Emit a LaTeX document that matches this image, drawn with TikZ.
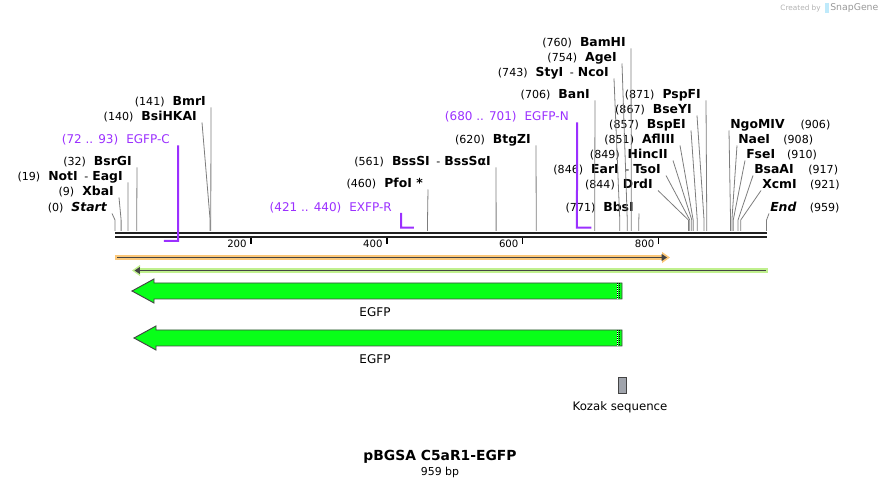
\documentclass[tikz,border=0pt]{standalone}
\usepackage{fontspec}
\setmainfont{DejaVu Sans}
\usetikzlibrary{arrows.meta,calc}

\definecolor{primer}{RGB}{155,48,255}
\definecolor{featgreen}{RGB}{8,255,24}
\definecolor{cutgray}{RGB}{125,125,125}
\definecolor{darkline}{RGB}{68,68,68}
\definecolor{glowor}{RGB}{252,200,122}
\definecolor{glowgr}{RGB}{192,240,142}
\definecolor{kozak}{RGB}{160,164,172}

\newcommand{\enz}[1]{{\fontsize{9.3}{11}\selectfont\bfseries #1}}

\tikzset{
  site/.style={inner sep=0pt,font=\fontsize{8.3}{10}\selectfont},
  lsite/.style={site,anchor=base east},
  rsite/.style={site,anchor=base west},
  plabel/.style={inner sep=0pt,anchor=base east,text=primer,font=\fontsize{9}{11}\selectfont},
  cutline/.style={draw=cutgray,line width=0.6pt},
  primerline/.style={draw=primer,line width=1.5pt},
  backbone/.style={draw=black!87,line width=1.5pt},
  tickmark/.style={draw=black,line width=1.2pt},
  ticklabel/.style={inner sep=0pt,anchor=east,font=\fontsize{7.6}{9}\selectfont},
  featarrow/.style={fill=featgreen,draw=darkline,line width=0.7pt},
  featlabel/.style={inner sep=0pt,font=\fontsize{9}{11}\selectfont}
}

\begin{document}
\begin{tikzpicture}[x=0.75pt,y=-0.75pt]
\useasboundingbox (0,0) rectangle (882,488);

% cut sites on the sequence
\foreach \n/\bp in {Start/0,XbaI/9,NotI/19,BsrGI/32,BsiHKAI/140,BmrI/141,PfoI/460,BssSI/561,BtgZI/620,BanI/706,StyI/743,AgeI/754,BamHI/760,BbsI/771,DrdI/844,EarI/846,HincII/849,AflIII/851,BspEI/857,BseYI/867,PspFI/871,NgoMIV/906,NaeI/908,FseI/910,BsaAI/917,XcmI/921,End/959}{
  \coordinate (c\n) at ({115+\bp*0.6794},231);
  \coordinate (k\n) at ({115+\bp*0.6794},220);
}

% backbone and ruler
\draw[backbone] (115,232.7) -- (767,232.7);
\draw[backbone] (115,236.7) -- (767,236.7);
\foreach \t in {200,400,600,800}{
  \draw[tickmark] ({115+\t*0.6794},238) -- ++(0,6.5);
  \node[ticklabel] (t\t) at ({115+\t*0.6794-4},244) {\t};
}

% enzymes, left of their lines
\node[lsite] (eStart) at (107,211.5) {(0)\hspace{6pt}\enz{\itshape Start}};
\node[lsite] (eXbaI) at (114,195.5) {(9)\hspace{6pt}\enz{XbaI}};
\node[lsite] (eNotI) at (123,180.5) {(19)\hspace{6pt}\enz{NotI}\hspace{5pt}-\hspace{3pt}\enz{EagI}};
\node[lsite] (eBsrGI) at (132,165.5) {(32)\hspace{6pt}\enz{BsrGI}};
\node[lsite] (eBsiHKAI) at (197,120.5) {(140)\hspace{6pt}\enz{BsiHKAI}};
\node[lsite] (eBmrI) at (206,105.5) {(141)\hspace{6pt}\enz{BmrI}};
\node[lsite] (ePfoI) at (423,187.5) {(460)\hspace{6pt}\enz{PfoI *}};
\node[lsite] (eBssSI) at (491,165.5) {(561)\hspace{6pt}\enz{BssSI}\hspace{5pt}-\hspace{3pt}\enz{BssSαI}};
\node[lsite] (eBtgZI) at (531,143.5) {(620)\hspace{6pt}\enz{BtgZI}};
\node[lsite] (eBanI) at (590,98.5) {(706)\hspace{6pt}\enz{BanI}};
\node[lsite] (eStyI) at (609,76.5) {(743)\hspace{6pt}\enz{StyI}\hspace{5pt}-\hspace{3pt}\enz{NcoI}};
\node[lsite] (eAgeI) at (617,61.5) {(754)\hspace{6pt}\enz{AgeI}};
\node[lsite] (eBamHI) at (626,46.5) {(760)\hspace{6pt}\enz{BamHI}};
\node[lsite] (eBbsI) at (634,211.5) {(771)\hspace{6pt}\enz{BbsI}};
\node[lsite] (eDrdI) at (653,188.5) {(844)\hspace{6pt}\enz{DrdI}};
\node[lsite] (eEarI) at (661,173.5) {(846)\hspace{6pt}\enz{EarI}\hspace{5pt}-\hspace{3pt}\enz{TsoI}};
\node[lsite] (eHincII) at (668,158.5) {(849)\hspace{6pt}\enz{HincII}};
\node[lsite] (eAflIII) at (675,143.5) {(851)\hspace{6pt}\enz{AflIII}};
\node[lsite] (eBspEI) at (686,128.5) {(857)\hspace{6pt}\enz{BspEI}};
\node[lsite] (eBseYI) at (692,113.5) {(867)\hspace{6pt}\enz{BseYI}};
\node[lsite] (ePspFI) at (701,98.5) {(871)\hspace{6pt}\enz{PspFI}};

% enzymes, right of their lines
\node[rsite] (eNgoMIV) at (730,128.5) {\enz{NgoMIV}\hspace{12pt}(906)};
\node[rsite] (eNaeI) at (738,143.5) {\enz{NaeI}\hspace{10pt}(908)};
\node[rsite] (eFseI) at (746,158.5) {\enz{FseI}\hspace{9pt}(910)};
\node[rsite] (eBsaAI) at (754,173.5) {\enz{BsaAI}\hspace{11pt}(917)};
\node[rsite] (eXcmI) at (762,188.5) {\enz{XcmI}\hspace{10pt}(921)};
\node[rsite] (eEnd) at (770,211.5) {\enz{\itshape End}\hspace{10pt}(959)};

\foreach \n in {Start,XbaI,NotI,BsrGI,BsiHKAI,BmrI,PfoI,BssSI,BtgZI,BanI,StyI,AgeI,BamHI,BbsI,DrdI,EarI,HincII,AflIII,BspEI,BseYI,PspFI}
  \draw[cutline] ([shift={(5,2)}]e\n.base east) -- (k\n) -- (c\n);
\foreach \n in {NgoMIV,NaeI,FseI,BsaAI,XcmI,End}
  \draw[cutline] ([shift={(-1,2)}]e\n.base west) -- (k\n) -- (c\n);

% primers
\foreach \n/\bp/\y in {p72/72/241,p93/93/241,p421/421/227.7,p440/440/227.7,p680/680/227.7,p701/701/227.7}
  \coordinate (\n) at ({115+\bp*0.6794},\y);
\node[plabel] (pEGFPC) at (170,143.5) {(72 .. 93)\hspace{6pt}EGFP-C};
\node[plabel] (pEXFPR) at (392,211.5) {(421 .. 440)\hspace{6pt}EXFP-R};
\node[plabel] (pEGFPN) at (569,120.5) {(680 .. 701)\hspace{6pt}EGFP-N};
\draw[primerline] ([shift={(8,2)}]pEGFPC.base east) -- (p93) -- (p72);
\draw[primerline] ([shift={(9,1.5)}]pEXFPR.base east) -- (p421) -- (p440);
\draw[primerline] ([shift={(8,2)}]pEGFPN.base east) -- (p680) -- (p701);

% features
\draw[glowor,line width=3.6pt,-{Triangle[length=6pt,width=8pt]}] (115,257.5) -- (670,257.5);
\draw[darkline,line width=1.4pt,-{Triangle[length=4pt,width=5pt]}] (117,257.5) -- (667,257.5);
\draw[glowgr,line width=3.6pt,{Triangle[length=6pt,width=8pt]}-] (132,270.5) -- (768,270.5);
\draw[darkline,line width=1.4pt,{Triangle[length=4pt,width=5pt]}-] (134.5,270.5) -- (766,270.5);

\draw[featarrow] (622,283) -- (154,283) -- (154,279) -- (132,291) -- (154,303) -- (154,299) -- (622,299) -- cycle;
\draw[featarrow] (622,330) -- (156,330) -- (156,326) -- (134,338) -- (156,350) -- (156,346) -- (622,346) -- cycle;
\foreach \y in {283,330}{
  \draw[white,line width=0.5pt] (617.5,\y) -- ++(0,16);
  \draw[black,line width=0.5pt,dash pattern=on 0.75pt off 0.75pt] (617.5,\y) -- ++(0,16);
  \draw[black,line width=0.5pt,dash pattern=on 0.75pt off 0.75pt] (619.5,\y) -- ++(0,16);
}
\node[featlabel] (fEGFPa) at (375,312) {EGFP};
\node[featlabel] (fEGFPb) at (375,359) {EGFP};

\draw[fill=kozak,draw=darkline,line width=0.7pt] (618,377) rectangle (626,393);
\node[featlabel,font=\fontsize{8.8}{11}\selectfont] (fKozak) at (620,407) {Kozak sequence};

% title
\node[inner sep=0pt,font=\fontsize{10.4}{12}\selectfont\bfseries] (title) at (440,457) {pBGSA C5aR1-EGFP};
\node[inner sep=0pt,font=\fontsize{8.2}{10}\selectfont] (size) at (440,472) {959 bp};

% credit
\node[inner sep=0pt,anchor=east,text=black!30,font=\fontsize{5.5}{7}\selectfont] (credA) at (821,8) {Created by};
\fill[cyan!25] (825,3) rectangle (829,13);
\node[inner sep=0pt,anchor=west,text=black!40,font=\fontsize{7}{8}\selectfont] (credB) at (830,8) {SnapGene};
\end{tikzpicture}
\end{document}
